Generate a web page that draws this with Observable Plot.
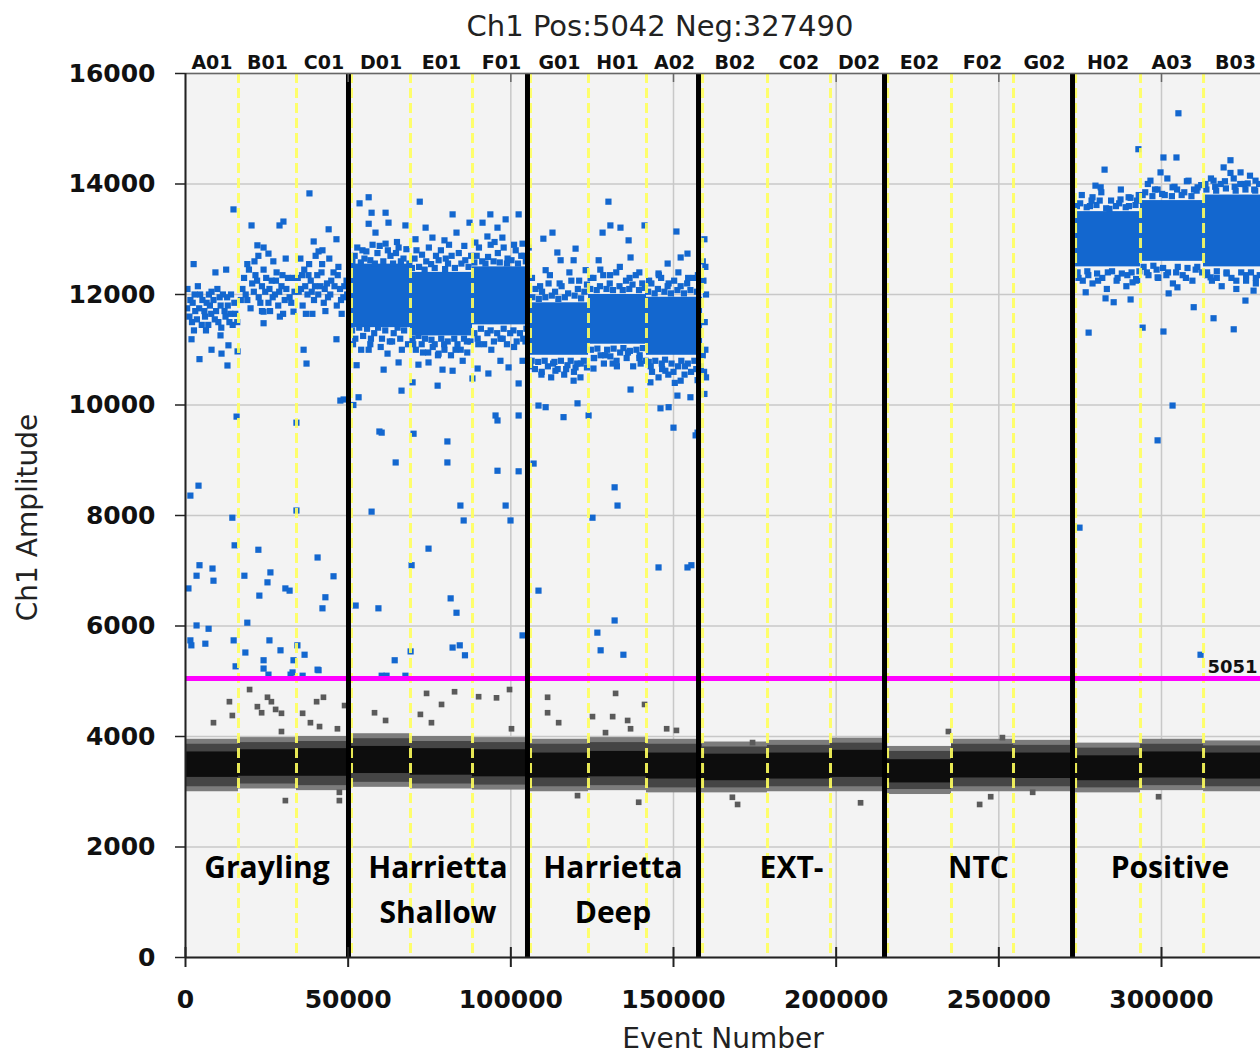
<!DOCTYPE html>
<html><head><meta charset="utf-8">
<script src="https://cdn.jsdelivr.net/npm/d3@7"></script>
<script src="https://cdn.jsdelivr.net/npm/@observablehq/plot@0.6"></script>
<style>body{margin:0;background:#fff}</style>
</head><body><div id="chart"></div>
<script>
const title = "Ch1 Pos:5042 Neg:327490";
const xLabel = "Event Number";
const yLabel = "Ch1 Amplitude";
const totalEvents = 332532;
const xTicks = [0, 50000, 100000, 150000, 200000, 250000, 300000];
const yTicks = [0, 2000, 4000, 6000, 8000, 10000, 12000, 14000, 16000];
const threshold = [5051];

const wells = ["A01","B01","C01","D01","E01","F01","G01","H01","A02","B02","C02","D02","E02","F02","G02","H02","A03","B03"];
const wellStarts = [0,16290,34120,51030,69160,88220,106050,123870,141700,158930,178900,198260,215800,235450,254510,273590,293550,312920];
const groups = ["Grayling","Harrietta\nShallow","Harrietta\nDeep","EXT-","NTC","Positive"];
const groupStarts = [0,50100,105120,157690,214860,272650];

// negative droplet band per well
const negOuterLo = [3000,3050,3020,3080,3050,3030,3000,3020,2980,2980,3000,3000,2950,3000,3000,2980,3020,3000];
const negOuterHi = [3950,3980,4000,4050,4000,3980,3950,3980,3950,3900,3930,3970,3820,3950,3930,3880,3950,3920];
const negCoreLo  = [3260,3280,3280,3330,3300,3270,3250,3270,3230,3200,3230,3260,3160,3250,3240,3200,3250,3230];
const negCoreHi  = [3720,3760,3780,3820,3780,3760,3700,3730,3700,3680,3700,3750,3580,3720,3700,3650,3720,3700];

// dense positive cores
const posCoreWells = ["D01","E01","F01","G01","H01","A02","H02","A03","B03"];
const posCoreLo = [11400,11250,11450,10900,11100,10900,12500,12600,12500];
const posCoreHi = [12550,12400,12500,11850,12000,11950,13500,13700,13800];

const bluePts = [
// Grayling
[1500,11900],[3000,11700],[4500,12000],[6000,11600],[7500,11800],[9000,11550],[10500,11950],[12000,11700],[13500,11500],[15000,11850],[2000,11500],[5000,11450],[8000,12050],[11000,11400],[14000,12000],[600,12100],[12800,11950],[7000,11450],
[500,11750],[1200,11600],[2200,11850],[2800,12000],[3500,11550],[4200,11750],[5200,11900],[5800,11700],[6500,11850],[7200,12000],[7900,11650],[8600,11900],[9400,11700],[10100,11500],[10800,11800],[11500,12000],[12300,11600],[13000,11800],[13800,11650],[14500,11450],[15300,11650],[15900,11500],[3800,12150],[9800,12100],[6300,11350],[2600,11350],
[2500,12550],[9200,12400],[12500,12450],[14750,13540],
[1850,11190],[4300,10830],[8000,11000],[11070,10930],[12900,10715],[16000,10970],[13200,11080],[10760,11260],
[20300,13250],[22100,12890],[24000,12850],[25500,12740],[28900,13250],[30100,13320],[22400,12700],
[17500,12100],[19000,11900],[20500,12200],[21500,12350],[22500,11950],[23500,12150],[24500,12050],[25500,11850],[26500,12250],[27500,12000],[28500,11800],[29500,12150],[30500,11900],[31500,12300],[32500,11850],[33500,12050],[18000,12300],[20000,11750],[24000,12450],[26000,11700],[28000,12400],[30000,11650],
[17000,11900],[18500,12000],[19500,12450],[21000,12050],[22000,12250],[23000,11850],[24800,12300],[25800,12100],[26800,11950],[27800,12250],[28800,12050],[29800,12350],[31000,12100],[32000,11950],[33000,12300],[19000,12550],[21200,12600],[27000,12600],[30800,12650],[23500,11700],[29000,11600],
[24000,11690],[24000,11480],[33200,11690],
[38100,13830],[44000,13180],[46400,13000],[39400,12960],[40900,12780],[42100,12800],
[34500,12300],[35500,12100],[36500,12450],[37500,12000],[38500,12250],[39500,11900],[40500,12350],[41500,12150],[42500,11850],[43500,12200],[44500,12000],[45500,12400],[46500,11800],[47500,12100],[48500,11950],[49500,12250],[36000,11800],[38000,12550],[42000,12550],[47000,12500],
[34800,12050],[35800,12350],[36800,12150],[37800,12350],[38800,12050],[39800,12150],[40800,12000],[41800,12400],[42800,12100],[43800,11950],[44800,12250],[45800,12150],[46800,12350],[47800,11900],[48800,12150],[49700,12000],[35300,12650],[40000,12700],[44200,12650],[37000,11650],[43000,11700],[48000,11650],
[36300,11000],[37200,10750],[46400,11190],[39000,11650],[48600,10100],
[15700,9790],[14400,7960],[15100,7460],[18100,6910],[19000,6060],[22400,7380],[22700,6550],[25200,6790],[26100,6970],[30700,6680],[32000,6640],[29200,5560],[24000,5380],
[1500,8360],[4000,8540],[4300,7100],[3400,6910],[8300,7040],[8600,6820],[900,6680],[3400,6010],[7100,5950],[1500,5740],
[1800,5650],[6100,5680],[14800,5740],[18400,5520],[15400,5270],[24000,5230],[25500,5120],[25800,5740],[32300,5120],[32900,5160],[36000,5100],[36600,5480],[40900,5200],
[34100,9680],[34100,8090],[34400,5650],[33200,5380],[40600,7240],[42100,6320],[43000,6520],[45500,6900],[40600,5210],[47600,10080],
// Harrietta Shallow
[53500,13650],[56300,13760],[57200,13480],[61500,13480],[62400,13300],[56300,13280],[58400,13120],[67600,13250],[72000,13680],[73800,13210],[75900,13030],[82100,13450],[87300,13300],[91300,13300],[93700,13450],[95900,13210],[98400,13360],[102400,13450],[97400,13030],[92800,13050],[89100,12940],[83300,13120],[79600,12980],[70700,13000],[65500,12850],[61500,12920],[54400,12800],[103600,12920],
[52000,12700],[55000,12650],[59000,12750],[63000,12700],[67000,12650],[71000,12800],[74000,12600],[77000,12700],[80000,12650],[84000,12750],[86000,12620],[89500,12700],[93000,12680],[96000,12750],[99000,12650],[101500,12800],[104000,12700],[57500,12900],[65000,12950],[81000,12900],[95000,12950],
[51300,12600],[52800,12850],[53900,12580],[55600,12780],[56800,12620],[58200,12560],[59700,12880],[60800,12600],[62200,12800],[63800,12560],[64700,12750],[66200,12600],[67900,12820],[68800,12560],
[69600,12480],[70400,12650],[71800,12500],[72700,12720],[73500,12450],[74800,12850],[75500,12550],[76600,12480],[77800,12620],[78500,12800],[79800,12460],[80700,12560],[81800,12700],[82800,12480],[84800,12560],[85700,12880],[87000,12500],[87800,12700],
[88800,12580],[90200,12850],[91200,12600],[92200,12560],[93800,12900],[94700,12600],[96600,12580],[97800,12850],[98800,12560],[100200,12620],[101000,12900],[102200,12560],[103200,12700],[104600,12600],[105500,12850],
[51200,11350],[52200,11200],[53400,11400],[54600,11250],[55800,11380],[56800,11100],[58000,11300],[59200,11400],[60400,11200],[61400,11350],[62800,11150],[64000,11300],[65200,11400],[66000,11200],[67200,11350],[68400,11100],
[69800,11200],[70800,11000],[71600,11250],[72600,11100],[73600,11200],[74600,10950],[75600,11180],[76600,11100],[77600,10900],[78600,11200],[79600,11000],[80600,11150],[81600,10900],[82600,11200],[83600,11100],[84600,11000],[85600,11200],[86600,10950],[87600,11150],
[88800,11300],[89800,11200],[90800,11380],[91800,11100],[92800,11300],[93800,11350],[94800,11150],[95800,11300],[96800,11200],[97800,11380],[98800,11100],[99800,11300],[100800,11350],[101800,11150],[102800,11300],[103800,11200],[104800,11380],[105600,11100],
[52600,10720],[56300,11000],[60900,10640],[62100,10930],[65500,10770],[66400,10260],[69800,10410],[71600,10730],[74700,10770],[77800,10930],[79000,10640],[82100,10620],[85200,10800],[88200,10480],[89800,10660],[93100,10570],[96800,10800],[99300,10680],[102400,10390],[103600,10800],[53200,10140],[77500,10350],[95300,9810],[102400,9810],[59600,9520],[70100,9480],[80500,9340],
[51500,11100],[54000,11000],[57000,11200],[60000,11050],[63500,11150],[66500,11000],[70000,11100],[73000,10950],[76000,11050],[79500,11100],[83000,11000],[86500,11150],[90000,11100],[94000,11000],[97500,11200],[101000,11050],[104500,11150],
[51600,10000],[60300,9500],[64600,8960],[57200,8070],[69500,7100],[52300,6370],[59300,6320],[74700,7400],[80500,8960],[84500,8180],[85500,7910],[81500,6500],[83300,6240],[95900,8810],[98400,8180],[99900,7910],[102400,8800],[103600,5830],[95900,9720],
[60300,5100],[61800,5100],[64300,5380],[67600,5100],[69200,5540],[82100,5610],[84300,5650],[85900,5470],
// Harrietta Deep
[130000,13680],[112800,13120],[110000,13010],[114300,12760],[119900,12830],[128200,13120],[130600,13250],[133700,13210],[136200,12980],[141100,13250],[150900,13140],[154300,12740],[119300,12620],[123000,12440],[127000,12620],[136800,12670],[145400,12380],[152200,12670],[148200,12560],[110700,12440],[115300,12620],
[106500,12300],[109000,12150],[112000,12350],[115000,12200],[118000,12400],[121000,12250],[124500,12300],[127500,12450],[130500,12350],[133500,12500],[136500,12300],[139500,12400],[142500,12250],[145500,12350],[148500,12200],[151500,12400],[154500,12300],[157500,12350],[159000,12600],
[106600,11950],[107600,12100],[108600,11920],[109600,12050],[110600,11950],[111600,12200],[112600,11980],[113600,12050],[114600,11920],[115600,12150],[116600,11950],[117600,12020],[118600,12250],[119600,11980],[120600,12100],[121600,11930],[122600,12050],[123400,12180],
[124400,12100],[125400,12300],[126400,12080],[127400,12150],[128400,12350],[129400,12100],[130400,12200],[131400,12080],[132400,12400],[133400,12150],[134400,12080],[135400,12250],[136400,12100],[137400,12180],[138400,12350],[139400,12080],[140400,12200],[141200,12120],
[142200,12050],[143200,12200],[144200,12020],[145200,12100],[146200,12300],[147200,12050],[148200,12150],[149200,12020],[150200,12250],[151200,12080],[152200,12150],[153200,12020],[154200,12200],[155200,12080],[156200,12300],[157200,12050],[158200,12150],[159200,12250],
[106400,10800],[107400,10650],[108400,10780],[109400,10550],[110400,10800],[111400,10700],[112400,10500],[113400,10780],[114400,10650],[115400,10800],[116400,10550],[117400,10720],[118400,10800],[119400,10600],[120400,10750],[121400,10500],[122400,10800],[123400,10680],
[124600,11000],[125600,10850],[126600,11020],[127600,10900],[128600,10750],[129600,11000],[130600,10880],[131600,11020],[132600,10700],[133600,10950],[134600,11030],[135600,10850],[136600,10980],[137600,10700],[138600,11000],[139600,10900],[140600,11030],[141400,10800],
[142400,10780],[143400,10600],[144400,10800],[145400,10500],[146400,10750],[147400,10820],[148400,10550],[149400,10750],[150400,10400],[151400,10700],[152400,10800],[153400,10550],[154400,10750],[155400,10600],[156400,10800],[157400,10450],[158400,10700],[159400,10600],
[159500,13000],[159800,12500],[160000,12000],[159600,11500],[159800,11000],[160000,10500],[159500,10200],
[113700,10620],[119900,10680],[119300,10440],[120500,10030],[110700,9960],[116200,9780],[123900,9810],[125400,10660],[131300,10750],[136800,10280],[139900,10750],[142900,10410],[146000,9940],[148500,9960],[151200,10170],[150000,9590],[155200,10140],[156800,9450],[147500,10620],[152200,10440],
[106000,10700],[109500,10600],[113000,10750],[117000,10650],[121500,10750],[125500,10850],[129000,10900],[132500,10800],[136000,10950],[139500,10850],[143000,10700],[146500,10650],[150000,10600],[153500,10700],[157000,10650],[159000,10900],
[108500,9990],[107000,8940],[108500,6640],[125100,7960],[131900,8510],[132800,8180],[131900,6100],[126600,5880],[127600,5560],[134600,5480],[145400,7060],[154300,7060],[155500,7100],[157400,9500],
// Positive
[305200,15280],[292900,14630],[282500,14260],[300600,14480],[304600,14480],[321200,14430],[319100,14300],[279700,13970],[281300,13940],[278800,13760],[287400,13720],[289900,13760],[296600,14060],[299700,14210],[303400,13940],[308300,14060],[311100,13940],[324300,14210],[326500,14010],[328900,14060],[316000,14060],[322200,14100],
[275000,13650],[278000,13600],[281000,13700],[284000,13550],[287000,13650],[290000,13600],[292500,13700],[295000,13850],[298000,13900],[301000,13800],[304000,13950],[307000,13850],[310000,13900],[313500,14000],[316500,13950],[319500,14050],[322500,13950],[325500,14000],[328500,13900],
[274000,13600],[275500,13800],[277000,13580],[278500,13700],[280000,13620],[281500,13850],[283000,13560],[284500,13700],[286000,13600],[287500,13900],[289000,13580],[290500,13750],[292000,13620],[293000,13800],
[294200,13800],[295800,14000],[297200,13780],[298800,13900],[300200,13820],[301800,14100],[303200,13780],[304800,13900],[306200,13800],[307800,14050],[309200,13780],[310800,13880],[312200,13980],
[313800,13900],[315200,14100],[316800,13880],[318200,14000],[319800,13920],[321200,14200],[322800,13880],[324200,14000],[325800,13900],[327200,14150],[328800,13880],[330000,14000],
[274200,12400],[275800,12250],[277200,12420],[278800,12200],[280200,12380],[281800,12300],[283200,12100],[284800,12420],[286200,12250],[287800,12380],[289200,12150],[290800,12400],[292200,12280],[293200,12420],
[294500,12500],[296000,12350],[297500,12520],[299000,12300],[300500,12480],[302000,12400],[303500,12200],[305000,12500],[306500,12350],[308000,12480],[309500,12250],[311000,12500],[312500,12400],
[314000,12400],[315500,12250],[317000,12420],[318500,12150],[320000,12380],[321500,12300],[323000,12100],[324500,12400],[326000,12250],[327500,12400],[329000,12200],[330200,12350],
[276700,12040],[282800,11930],[285300,11860],[290500,11910],[298800,12310],[304900,12130],[302200,12020],[309900,11770],[316000,11570],[322200,11370],[325800,11890],[328300,12070],[277600,11310],[300600,11330],[315100,12310],[291100,12220],[294200,11400],
[274500,12300],[277500,12350],[280500,12250],[283500,12400],[286500,12300],[289500,12350],[292500,12250],[295500,12400],[298500,12450],[301500,12350],[304500,12400],[307500,12300],[310500,12450],[314000,12350],[317000,12300],[320000,12400],[323000,12250],[326000,12350],[329000,12300],
[274800,7780],[298800,9360],[303400,9990],[312000,5480]
];

const grayPts = [
[19700,4850],[13500,4630],[8600,4250],[22100,4540],[23400,4430],[25200,4710],[26400,4630],[27700,4490],[29500,4420],[29500,4090],[36000,4420],[38400,4250],[41200,4180],[40300,4630],[42400,4710],[46700,4140],[48900,4560],[30700,2840],[47300,2990],[47300,2840],[14400,4380],
[58100,4430],[61500,4290],[72200,4400],[75600,4250],[74100,4780],[78700,4580],[82700,4810],[90100,4720],[95600,4700],[99600,4850],[100200,4140],
[111300,4710],[111300,4430],[114700,4250],[125100,4360],[132200,4780],[131300,4360],[135900,4290],[136800,4140],[129100,4070],[141100,4580],[147900,4140],[150900,4110],[139300,2810],[120500,2930],
[174300,3890],[234500,4090],[251100,3980],[169700,2770],[168100,2900],[244100,2770],[247500,2910],[207500,2800],[260400,2990],[299100,2910]
];

// ---- derived tables ----
const wellEnd = i => i + 1 < wellStarts.length ? wellStarts[i + 1] : totalEvents;
const wellTable = wells.map((w, i) => ({name: w, x1: wellStarts[i], x2: wellEnd(i), cx: (wellStarts[i] + wellEnd(i)) / 2,
  oLo: negOuterLo[i], oHi: negOuterHi[i], cLo: negCoreLo[i], cHi: negCoreHi[i]}));
const coreTable = posCoreWells.map((w, j) => { const i = wells.indexOf(w); return {x1: wellStarts[i], x2: wellEnd(i), lo: posCoreLo[j], hi: posCoreHi[j]}; });
const groupTable = groups.map((g, i) => ({name: g, cx: (groupStarts[i] + (i + 1 < groupStarts.length ? groupStarts[i + 1] : totalEvents)) / 2}));

const BLUE = "#1367cf";
const chart = Plot.plot({
  width: 1260, height: 1058,
  marginLeft: 185, marginRight: 0, marginTop: 73, marginBottom: 101,
  style: {color: "#111", background: "#fff", overflow: "visible"},
  x: {domain: [0, 330430]},
  y: {domain: [0, 16000]},
  marks: [
    Plot.frame({fill: "#f3f3f3", stroke: null}),
    Plot.gridY(yTicks, {stroke: "#c8c8c8", strokeOpacity: 1, strokeWidth: 1.5}),
    Plot.gridX(xTicks, {stroke: "#c8c8c8", strokeOpacity: 1, strokeWidth: 1.5}),
    // negative band
    Plot.rect(wellTable, {x1: "x1", x2: "x2", y1: "oLo", y2: "oHi", fill: "#7c7c7c"}),
    Plot.rect(wellTable, {x1: "x1", x2: "x2", y1: "oLo", y2: "oHi", insetTop: 5, insetBottom: 5, fill: "#454545"}),
    Plot.rect(wellTable, {x1: "x1", x2: "x2", y1: "cLo", y2: "cHi", fill: "#0d0d0d"}),
    Plot.dot(grayPts, {x: d => d[0], y: d => d[1], symbol: "square", r: 3.2, fill: "#5a5a5a", clip: true}),
    // positive clouds
    Plot.rect(coreTable, {x1: "x1", x2: "x2", y1: "lo", y2: "hi", fill: BLUE}),
    Plot.dot(bluePts, {x: d => d[0], y: d => d[1], symbol: "square", r: 3.5, fill: BLUE, clip: true}),
    // well separators
    Plot.ruleX(wellStarts.slice(1), {stroke: "#ffff5c", strokeOpacity: 0.9, strokeWidth: 3, strokeDasharray: "10,5"}),
    Plot.ruleY(threshold, {stroke: "#ff00ff", strokeWidth: 5}),
    Plot.ruleX(groupStarts.slice(1), {stroke: "#000", strokeWidth: 5}),
    // frame lines
    Plot.ruleY([16000], {stroke: "#666", strokeWidth: 1.5}),
    Plot.ruleX([0], {stroke: "#222", strokeWidth: 2}),
    Plot.ruleY([0], {stroke: "#222", strokeWidth: 2}),
    Plot.ruleX(xTicks, {y1: 0, y2: 0, insetTop: -10, insetBottom: -10, stroke: "#222", strokeWidth: 2}),
    Plot.ruleX(xTicks.slice(1), {y1: 16000, y2: 16000, insetBottom: -9, stroke: "#666", strokeWidth: 1.5}),
    Plot.axisY(yTicks, {tickSize: 10, tickPadding: 20, tickFormat: d => String(d), label: null,
      fontSize: 25, fontWeight: "bold", fontFamily: "DejaVu Sans", stroke: "#222", strokeWidth: 1.5}),
    Plot.axisX(xTicks, {tickSize: 0, tickPadding: 33, tickFormat: d => String(d), label: null,
      fontSize: 25, fontWeight: "bold", fontFamily: "DejaVu Sans"}),
    // texts
    Plot.text(wellTable, {x: "cx", text: "name", frameAnchor: "top", dy: -11, lineAnchor: "middle",
      fontFamily: "DejaVu Sans", fontWeight: "bold", fontSize: 19, fill: "#111"}),
    Plot.text(groupTable, {x: "cx", text: "name", frameAnchor: "bottom", dy: -111, lineAnchor: "top", lineHeight: 1.5,
      fontFamily: "Open Sans", fontWeight: "bold", fontSize: 30, fill: "#000"}),
    Plot.text(threshold, {y: d => d, text: d => String(d), frameAnchor: "right", dx: -3, dy: -11, textAnchor: "end",
      fontFamily: "DejaVu Sans", fontWeight: "bold", fontSize: 18, fill: "#111"}),
    Plot.text([title], {frameAnchor: "top", dy: -58, dx: -63, fontFamily: "DejaVu Sans", fontSize: 29, fill: "#222"}),
    Plot.text([xLabel], {frameAnchor: "bottom", dy: 90, fontFamily: "DejaVu Sans", fontSize: 28, fill: "#222"}),
    Plot.text([yLabel], {frameAnchor: "left", dx: -157, dy: 2, rotate: -90, textAnchor: "middle", fontFamily: "DejaVu Sans", fontSize: 28, fill: "#222"})
  ]
});
document.getElementById("chart").appendChild(chart);
</script>
</body></html>
